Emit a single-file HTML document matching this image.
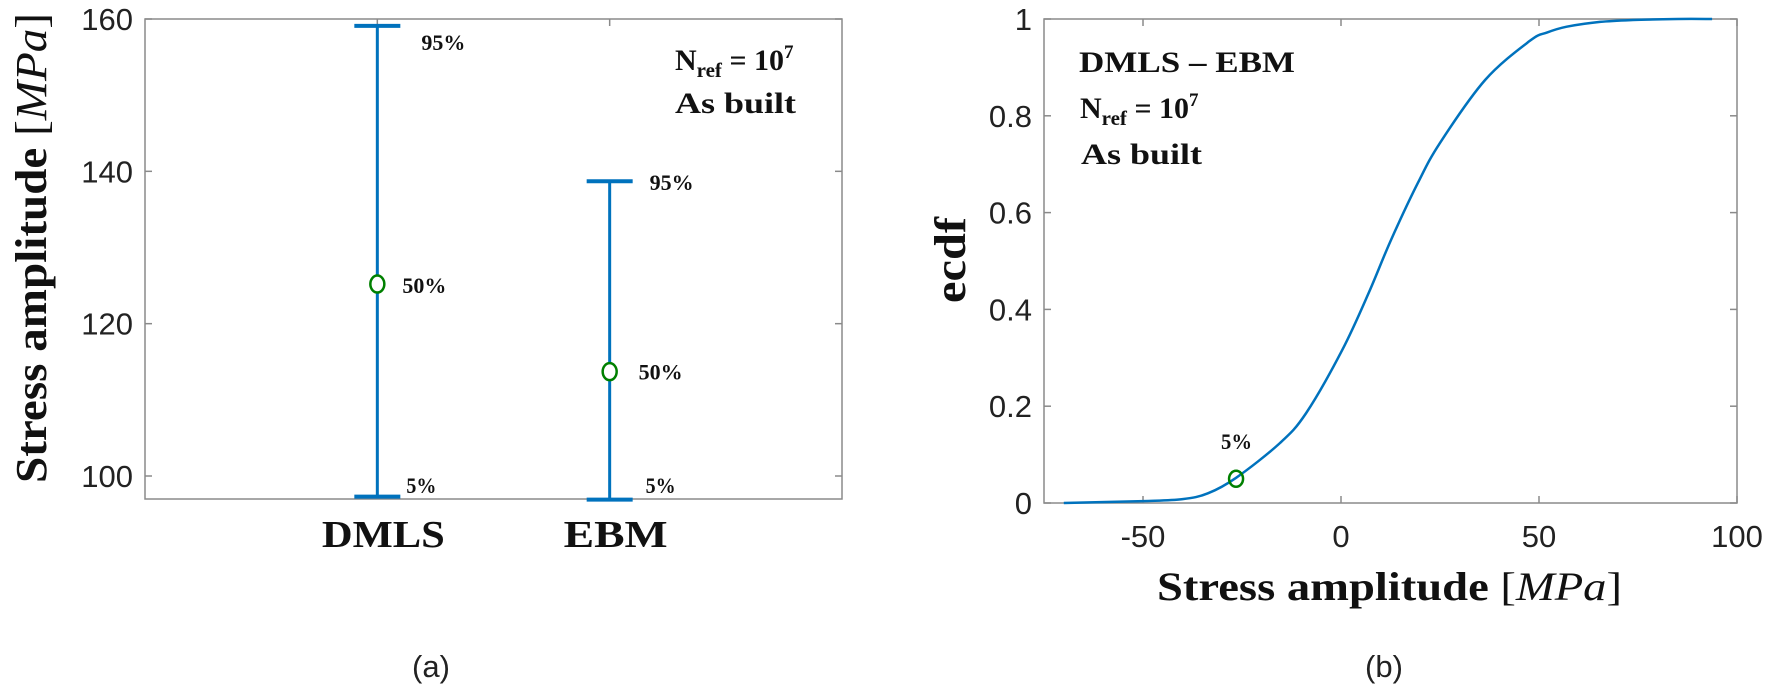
<!DOCTYPE html>
<html><head><meta charset="utf-8"><style>
body{margin:0;background:#fff}
svg{display:block}
.tk{font-family:"Liberation Sans",sans-serif;font-size:31px;fill:#222}
.sr{font-family:"Liberation Serif",serif;font-weight:bold;fill:#111}
.pc{font-family:"Liberation Serif",serif;font-weight:bold;font-size:22px;fill:#111}
</style></head><body>
<svg id="fig" width="1770" height="689" viewBox="0 0 1770 689" xmlns="http://www.w3.org/2000/svg">
<rect width="1770" height="689" fill="#fff"/>
<g id="pa"></g>
<g id="pb"></g>
</svg>
<script>
// Panel (a) data
const catNames = ["DMLS", "EBM"];
const q95 = [159.1, 138.7];
const q50 = [125.2, 113.7];
const q05 = [97.3, 96.9];
const aYTicks = [100, 120, 140, 160];
// Panel (b) data
const cdfX = [-70, -50, -40, -33.6, -26.5, -15.4, -8.8, 0.3, 7, 12.6, 19.4, 25, 36.4, 47.7, 52, 57, 65.4, 73.7, 85, 93.7];
const cdfY = [0, 0.004, 0.008, 0.02, 0.052, 0.124, 0.186, 0.316, 0.434, 0.543, 0.661, 0.744, 0.874, 0.955, 0.972, 0.984, 0.994, 0.998, 1.0, 1.0];
const markX = [-26.5];
const markY = [0.05];
const bXTicks = [-50, 0, 50, 100];
const bYTicks = [0, 0.2, 0.4, 0.6, 0.8, 1];

const NS = "http://www.w3.org/2000/svg";
function mk(parent, tag, attrs, text){
  const e = document.createElementNS(NS, tag);
  for (const k in attrs) e.setAttribute(k, attrs[k]);
  if (text !== undefined) e.textContent = text;
  parent.appendChild(e);
  return e;
}
const BLUE = "#0072BD", GREEN = "#008000", GRAY = "#8a8a8a";

// ---------- Panel A ----------
const pa = document.getElementById("pa");
const aL = 145, aR = 842, aT = 19, aB = 499;
const ax = i => aL + (i + 1) * (aR - aL) / 3;
const ay = v => aT + (160 - v) * (476 - aT) / 60;
const off95 = [[44, 24], [40, 9]];
const off50 = [[25, 9], [29, 8]];
const off05 = [29, 36];
let e;
e = mk(pa, "rect", {x:aL, y:aT, width:aR-aL, height:aB-aT, fill:"none", stroke:GRAY, "stroke-width":1.5});


aYTicks.forEach(v => {
  e = mk(pa, "line", {x1:aL, x2:aL+7, y1:ay(v), y2:ay(v), stroke:GRAY, "stroke-width":1.5});
  
  
  e = mk(pa, "line", {x1:aR, x2:aR-7, y1:ay(v), y2:ay(v), stroke:GRAY, "stroke-width":1.5});
  
  
  e = mk(pa, "text", {x:133, y:ay(v)+11, "text-anchor":"end", class:"tk"}, String(v));
  
  
});
catNames.forEach((c, i) => {
  const x = ax(i);
  e = mk(pa, "line", {x1:x, x2:x, y1:aT, y2:aT+7, stroke:GRAY, "stroke-width":1.5});
  
  
  e = mk(pa, "line", {x1:x, x2:x, y1:ay(q95[i]), y2:ay(q05[i]), stroke:BLUE, "stroke-width":3});
  
  
  [q95[i], q05[i]].forEach(v => {
    e = mk(pa, "line", {x1:x-23, x2:x+23, y1:ay(v), y2:ay(v), stroke:BLUE, "stroke-width":4});
    
    
  });
  e = mk(pa, "ellipse", {cx:x, cy:ay(q50[i]), rx:7, ry:8.5, fill:"#fff", stroke:GREEN, "stroke-width":2.5});
  
  
  e = mk(pa, "text", {x:x+off95[i][0], y:ay(q95[i])+off95[i][1], class:"pc", textLength:44, lengthAdjust:"spacingAndGlyphs"}, "95%");
  
  
  e = mk(pa, "text", {x:x+off50[i][0], y:ay(q50[i])+off50[i][1], class:"pc", textLength:44, lengthAdjust:"spacingAndGlyphs"}, "50%");
  
  
  e = mk(pa, "text", {x:x+off05[i], y:493, class:"pc", textLength:30, lengthAdjust:"spacingAndGlyphs"}, "5%");
  
  
  const w = c === "DMLS" ? 123 : 104;
  e = mk(pa, "text", {x:x+6-w/2, y:547, class:"sr", "font-size":"38", textLength:w, lengthAdjust:"spacingAndGlyphs"}, c);
  
  
});
e = mk(pa, "text", {x:675, y:70, class:"sr", "font-size":"30"});
e.innerHTML = 'N<tspan font-size="21" dy="7">ref</tspan><tspan dy="-7"> = 10</tspan><tspan font-size="19" dy="-12">7</tspan>';


e = mk(pa, "text", {x:675, y:113, class:"sr", "font-size":"30", textLength:121, lengthAdjust:"spacingAndGlyphs"}, "As built");


e = mk(pa, "text", {transform:"translate(46,248) rotate(-90)", "text-anchor":"middle", class:"sr", "font-size":"44", textLength:470, lengthAdjust:"spacingAndGlyphs"});
e.innerHTML = 'Stress amplitude <tspan font-weight="normal">[</tspan><tspan font-weight="normal" font-style="italic">MPa</tspan><tspan font-weight="normal">]</tspan>';


e = mk(pa, "text", {x:431, y:677, "text-anchor":"middle", class:"tk", "font-size":"32"}, "(a)");



// ---------- Panel B ----------
const pb = document.getElementById("pb");
const bL = 1044, bR = 1737, bT = 19, bB = 503;
const bx = v => bL + (v + 75) * (bR - bL) / 175;
const by = v => bB - v * (bB - bT);
e = mk(pb, "rect", {x:bL, y:bT, width:bR-bL, height:bB-bT, fill:"none", stroke:GRAY, "stroke-width":1.5});


bYTicks.forEach(v => {
  e = mk(pb, "line", {x1:bL, x2:bL+7, y1:by(v), y2:by(v), stroke:GRAY, "stroke-width":1.5});
  
  
  e = mk(pb, "line", {x1:bR, x2:bR-7, y1:by(v), y2:by(v), stroke:GRAY, "stroke-width":1.5});
  
  
  e = mk(pb, "text", {x:1032, y:by(v)+11, "text-anchor":"end", class:"tk"}, String(v));
  
  
});
bXTicks.forEach(v => {
  e = mk(pb, "line", {x1:bx(v), x2:bx(v), y1:bB, y2:bB-7, stroke:GRAY, "stroke-width":1.5});
  
  
  e = mk(pb, "line", {x1:bx(v), x2:bx(v), y1:bT, y2:bT+7, stroke:GRAY, "stroke-width":1.5});
  
  
  e = mk(pb, "text", {x:bx(v), y:547, "text-anchor":"middle", class:"tk"}, String(v));
  
  
});
const P = cdfX.map((x, i) => [bx(x), by(cdfY[i])]);
let d = "M" + P[0][0].toFixed(1) + "," + P[0][1].toFixed(1);
for (let i = 0; i < P.length - 1; i++) {
  const p0 = P[Math.max(0, i-1)], p1 = P[i], p2 = P[i+1], p3 = P[Math.min(P.length-1, i+2)];
  const c1 = [p1[0] + (p2[0]-p0[0])/6, p1[1] + (p2[1]-p0[1])/6];
  const c2 = [p2[0] - (p3[0]-p1[0])/6, p2[1] - (p3[1]-p1[1])/6];
  d += "C" + c1.map(n=>n.toFixed(1)).join(",") + " " + c2.map(n=>n.toFixed(1)).join(",") + " " + p2.map(n=>n.toFixed(1)).join(",");
}
e = mk(pb, "path", {d:d, fill:"none", stroke:BLUE, "stroke-width":2.5, "stroke-linejoin":"round"});


markX.forEach((x, i) => {
  e = mk(pb, "ellipse", {cx:bx(x), cy:by(markY[i]), rx:7, ry:8, fill:"none", stroke:GREEN, "stroke-width":2.5});
  
  
  e = mk(pb, "text", {x:bx(x)-15, y:by(markY[i])-30, class:"pc", textLength:31, lengthAdjust:"spacingAndGlyphs"}, "5%");
  
  
});
e = mk(pb, "text", {x:1079, y:72, class:"sr", "font-size":"30", textLength:216, lengthAdjust:"spacingAndGlyphs"}, "DMLS – EBM");


e = mk(pb, "text", {x:1080, y:118, class:"sr", "font-size":"30"});
e.innerHTML = 'N<tspan font-size="21" dy="7">ref</tspan><tspan dy="-7"> = 10</tspan><tspan font-size="19" dy="-12">7</tspan>';


e = mk(pb, "text", {x:1081, y:164, class:"sr", "font-size":"30", textLength:121, lengthAdjust:"spacingAndGlyphs"}, "As built");


e = mk(pb, "text", {transform:"translate(965,260) rotate(-90)", "text-anchor":"middle", class:"sr", "font-size":"44", textLength:86, lengthAdjust:"spacingAndGlyphs"}, "ecdf");


e = mk(pb, "text", {x:1157, y:600, class:"sr", "font-size":"40", textLength:465, lengthAdjust:"spacingAndGlyphs"});
e.innerHTML = 'Stress amplitude <tspan font-weight="normal">[</tspan><tspan font-weight="normal" font-style="italic">MPa</tspan><tspan font-weight="normal">]</tspan>';


e = mk(pb, "text", {x:1384, y:677, "text-anchor":"middle", class:"tk", "font-size":"32"}, "(b)");


</script>
</body></html>
